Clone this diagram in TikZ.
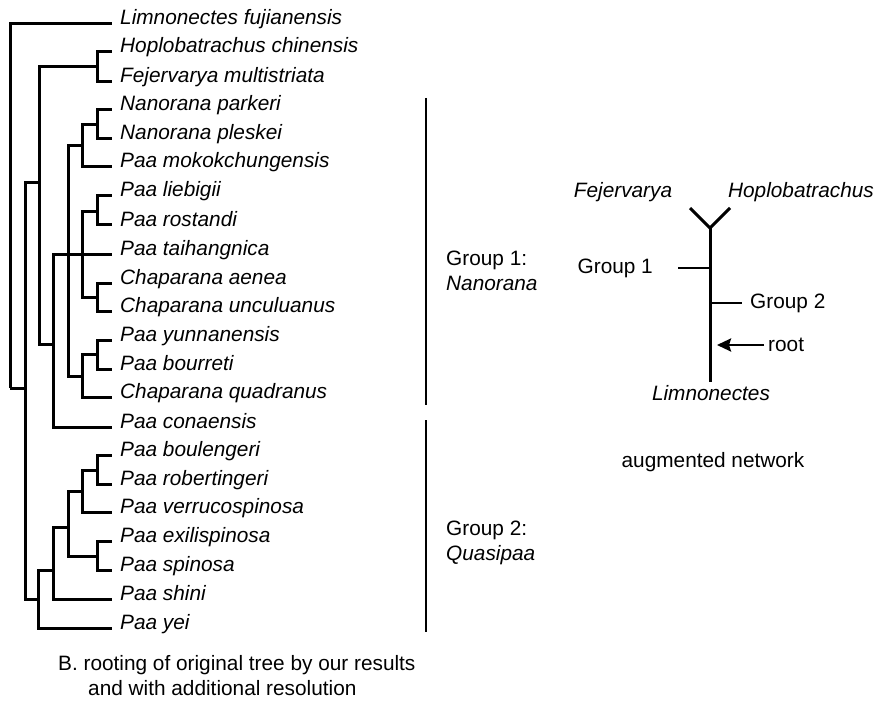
\documentclass[tikz,border=0pt]{standalone}
\usepackage{fontspec}
\setmainfont{Liberation Sans}
\usetikzlibrary{arrows.meta}
\begin{document}
\begin{tikzpicture}[x=1pt,y=-1pt,
  br/.style={line width=3pt},
  grp/.style={line width=2.6pt},
  lbl/.style={inner sep=0pt,font=\fontsize{20.8}{25}\selectfont},
  leaf/.style={lbl,anchor=base west,font=\fontsize{20.8}{25}\selectfont\itshape},
  lnum/.style={anchor=base west}]
\useasboundingbox (0,0) rectangle (877,703);
% leaf tips and labels
\foreach \n/\y/\t in {0/24/Limnonectes fujianensis,1/52/Hoplobatrachus chinensis,2/82/Fejervarya multistriata,3/110/Nanorana parkeri,4/139/Nanorana pleskei,5/167/Paa mokokchungensis,6/196/Paa liebigii,7/225/Paa rostandi,8/254/Paa taihangnica,9/283/Chaparana aenea,10/311/Chaparana unculuanus,11/340/Paa yunnanensis,12/369/Paa bourreti,13/397/Chaparana quadranus,14/427/Paa conaensis,15/455/Paa boulengeri,16/484/Paa robertingeri,17/512/Paa verrucospinosa,18/541/Paa exilispinosa,19/570/Paa spinosa,20/599/Paa shini,21/628/Paa yei}{
  \coordinate (l\n) at (112,\y);
  \node[leaf] (t\n) at (120,\y+1) {\t};
}
% internal nodes
\coordinate (R)  at (10,388);
\coordinate (A)  at (25,388);
\coordinate (B)  at (39,183);
\coordinate (HF) at (97,67);
\coordinate (G1) at (53,344);
\coordinate (C)  at (68,254);
\coordinate (D)  at (82,146);
\coordinate (NN) at (97,125);
\coordinate (E)  at (82,254);
\coordinate (LR) at (97,212);
\coordinate (CH) at (97,297);
\coordinate (F)  at (82,376);
\coordinate (YB) at (97,354);
\coordinate (Q)  at (38,599);
\coordinate (Q2) at (53,570);
\coordinate (Q3) at (68,527);
\coordinate (Q4) at (82,491);
\coordinate (BR) at (97,470);
\coordinate (ES) at (97,556);
% branches
\draw[br] (R) |- (l0);
\draw[br] (R) -- (A);
\draw[br] (A) |- (B);
\draw[br] (A) |- (Q);
\draw[br] (B) |- (HF);
\draw[br] (B) |- (G1);
\draw[br] (HF) |- (l1);
\draw[br] (HF) |- (l2);
\draw[br] (G1) |- (l8);
\draw[br] (G1) |- (l14);
\draw[br] (C) |- (D);
\draw[br] (C) |- (F);
\draw[br] (D) |- (NN);
\draw[br] (D) |- (l5);
\draw[br] (NN) |- (l3);
\draw[br] (NN) |- (l4);
\draw[br] (E) |- (LR);
\draw[br] (E) |- (CH);
\draw[br] (LR) |- (l6);
\draw[br] (LR) |- (l7);
\draw[br] (CH) |- (l9);
\draw[br] (CH) |- (l10);
\draw[br] (F) |- (YB);
\draw[br] (F) |- (l13);
\draw[br] (YB) |- (l11);
\draw[br] (YB) |- (l12);
\draw[br] (Q) |- (Q2);
\draw[br] (Q) |- (l21);
\draw[br] (Q2) |- (Q3);
\draw[br] (Q2) |- (l20);
\draw[br] (Q3) |- (Q4);
\draw[br] (Q3) |- (ES);
\draw[br] (Q4) |- (BR);
\draw[br] (Q4) |- (l17);
\draw[br] (BR) |- (l15);
\draw[br] (BR) |- (l16);
\draw[br] (ES) |- (l18);
\draw[br] (ES) |- (l19);
% group bars
\coordinate (g1t) at (426,98);
\coordinate (g1b) at (426,405);
\coordinate (g2t) at (426,420);
\coordinate (g2b) at (426,632);
\draw[grp] (g1t) -- (g1b);
\draw[grp] (g2t) -- (g2b);
\node[lbl,anchor=base west] (grp1a) at (446,265) {Group 1:};
\node[lbl,anchor=base west] (grp1b) at (446,290) {\itshape Nanorana};
\node[lbl,anchor=base west] (grp2a) at (446,535) {Group 2:};
\node[lbl,anchor=base west] (grp2b) at (446,560) {\itshape Quasipaa};
% network
\coordinate (nt) at (710,228);
\coordinate (nb) at (710,382);
\coordinate (fa) at (690,208);
\coordinate (ha) at (730,208);
\coordinate (n1) at (710,268);
\coordinate (e1) at (678,268);
\coordinate (n2) at (710,303);
\coordinate (e2) at (742,303);
\coordinate (as) at (764,345);
\coordinate (ae) at (717,345);
\draw[br] (fa) -- (nt) -- (ha);
\draw[br] (nt) -- (nb);
\draw[line width=2.4pt] (n1) -- (e1);
\draw[line width=2.4pt] (n2) -- (e2);
\draw[line width=2.4pt,-{Stealth[length=14pt,width=13pt,inset=2pt]}] (as) -- (ae);
\node[lbl,font=\fontsize{20.8}{25}\selectfont\itshape] (fej) at (623,192) {Fejervarya};
\node[lbl,font=\fontsize{20.8}{25}\selectfont\itshape] (hop) at (801,192) {Hoplobatrachus};
\node[lbl,anchor=east] (ng1) at (653,268) {Group 1};
\node[lbl,anchor=west] (ng2) at (750,303) {Group 2};
\node[lbl,anchor=west] (nroot) at (768,345) {root};
\node[lbl,font=\fontsize{20.8}{25}\selectfont\itshape] (lim) at (711,393) {Limnonectes};
\node[lbl] (aug) at (713,462) {augmented network};
% caption
\node[lbl,anchor=base west] (cap1) at (58,670) {B. rooting of original tree by our results};
\node[lbl,anchor=base west] (cap2) at (88,695) {and with additional resolution};
\end{tikzpicture}
\end{document}
